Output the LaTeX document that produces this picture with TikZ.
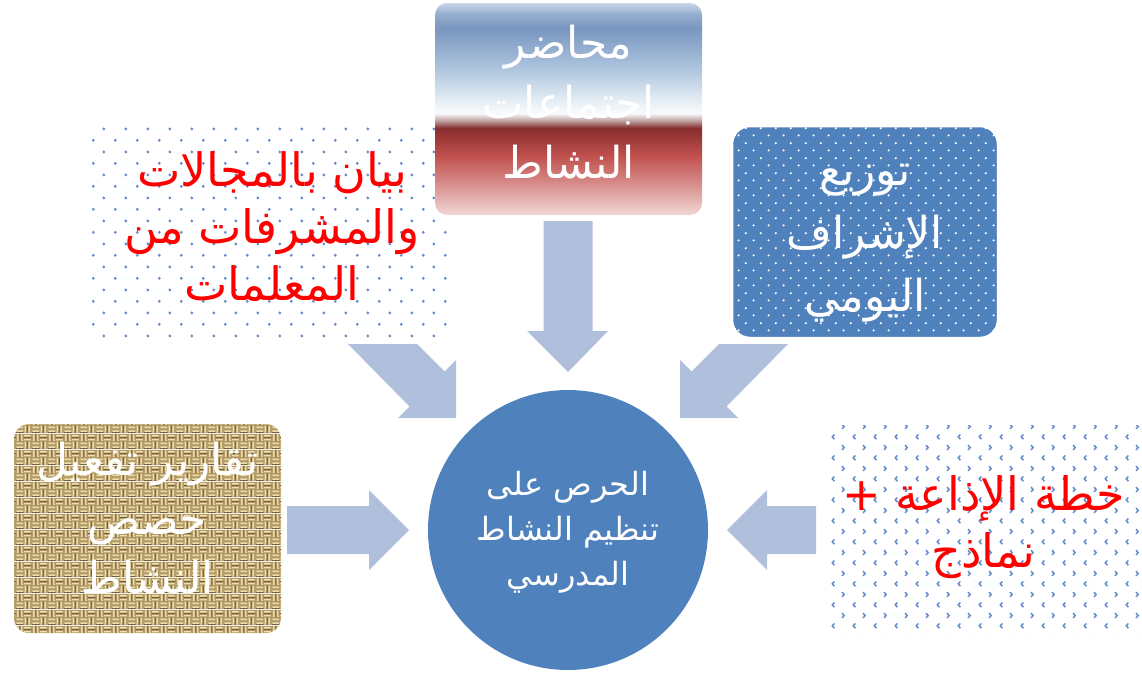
\documentclass[tikz,border=0pt]{standalone}
\usepackage{fontspec}
\newfontfamily\arabicfont[Script=Arabic]{DejaVu Sans}
\TeXXeTstate=1
\usetikzlibrary{patterns}
\definecolor{arrowc}{RGB}{176,191,219}
\definecolor{circc}{RGB}{79,129,189}
\definecolor{dotc}{RGB}{98,138,204}
\definecolor{chevc}{RGB}{100,140,205}
\definecolor{burlap}{RGB}{180,155,104}
\definecolor{burlapL}{RGB}{236,222,172}
\definecolor{burlapD}{RGB}{120,96,56}
\definecolor{redtxt}{RGB}{255,0,0}
\definecolor{g1}{RGB}{200,214,232}
\definecolor{g2}{RGB}{150,175,208}
\definecolor{g3}{RGB}{122,150,192}
\definecolor{g4}{RGB}{170,194,220}
\definecolor{g5}{RGB}{225,235,243}
\definecolor{g6}{RGB}{250,250,252}
\definecolor{g7}{RGB}{190,160,160}
\definecolor{g8}{RGB}{135,45,45}
\definecolor{g9}{RGB}{192,80,77}
\definecolor{g10}{RGB}{215,140,138}
\definecolor{g11}{RGB}{240,215,213}
\pgfdeclareverticalshading{topgrad}{100bp}{color(0bp)=(g11); color(25bp)=(g11); color(32.5bp)=(g10); color(39bp)=(g9); color(45.5bp)=(g8); color(47.25bp)=(g7); color(49bp)=(g6); color(52.5bp)=(g5); color(60bp)=(g4); color(69bp)=(g3); color(72.5bp)=(g2); color(75bp)=(g1); color(100bp)=(g1)}
\pgfdeclarepatternformonly{bdots}{\pgfpointorigin}{\pgfpoint{22pt}{22.8pt}}{\pgfpoint{22pt}{22.8pt}}{%
  \pgfpathcircle{\pgfpoint{5.5pt}{5.7pt}}{1.6pt}%
  \pgfpathcircle{\pgfpoint{16.5pt}{17.1pt}}{1.6pt}%
  \pgfusepath{fill}}
\pgfdeclarepatternformonly{wdots}{\pgfpointorigin}{\pgfpoint{14.7pt}{14.7pt}}{\pgfpoint{14.7pt}{14.7pt}}{%
  \pgfpathcircle{\pgfpoint{3.675pt}{3.675pt}}{1.2pt}%
  \pgfpathcircle{\pgfpoint{11.025pt}{11.025pt}}{1.2pt}%
  \pgfusepath{fill}}
\pgfdeclarepatternformonly{chev}{\pgfpointorigin}{\pgfpoint{20.7pt}{20.8pt}}{\pgfpoint{20.7pt}{20.8pt}}{%
  \pgfsetlinewidth{1.5pt}%
  \pgfpathmoveto{\pgfpoint{6.5pt}{7.6pt}}\pgfpathlineto{\pgfpoint{4.3pt}{5.2pt}}\pgfpathlineto{\pgfpoint{6.5pt}{2.8pt}}%
  \pgfpathmoveto{\pgfpoint{14.2pt}{18pt}}\pgfpathlineto{\pgfpoint{16.4pt}{15.6pt}}\pgfpathlineto{\pgfpoint{14.2pt}{13.2pt}}%
  \pgfusepath{stroke}}
\pgfdeclarepatterninherentlycolored{weave}{\pgfpointorigin}{\pgfpoint{16pt}{16pt}}{\pgfpoint{16pt}{16pt}}{%
  \pgfsetfillcolor{burlap}\pgfpathrectangle{\pgfpointorigin}{\pgfpoint{16pt}{16pt}}\pgfusepath{fill}%
  \pgfsetstrokecolor{burlapD}\pgfsetlinewidth{1.0pt}%
  \pgfpathmoveto{\pgfpoint{0pt}{0.3pt}}\pgfpathlineto{\pgfpoint{8pt}{0.3pt}}%
  \pgfpathmoveto{\pgfpoint{12pt}{0pt}}\pgfpathlineto{\pgfpoint{12pt}{8pt}}%
  \pgfpathmoveto{\pgfpoint{4pt}{8pt}}\pgfpathlineto{\pgfpoint{4pt}{16pt}}%
  \pgfpathmoveto{\pgfpoint{8pt}{12pt}}\pgfpathlineto{\pgfpoint{16pt}{12pt}}%
  \pgfusepath{stroke}%
  \pgfsetstrokecolor{burlapL}\pgfsetlinewidth{1.6pt}%
  \pgfpathmoveto{\pgfpoint{0.5pt}{2.1pt}}\pgfpathlineto{\pgfpoint{7.5pt}{2.1pt}}%
  \pgfpathmoveto{\pgfpoint{0.5pt}{6pt}}\pgfpathlineto{\pgfpoint{7.5pt}{6pt}}%
  \pgfpathmoveto{\pgfpoint{8.5pt}{10pt}}\pgfpathlineto{\pgfpoint{15.5pt}{10pt}}%
  \pgfpathmoveto{\pgfpoint{8.5pt}{14pt}}\pgfpathlineto{\pgfpoint{15.5pt}{14pt}}%
  \pgfpathmoveto{\pgfpoint{10pt}{0.5pt}}\pgfpathlineto{\pgfpoint{10pt}{7.5pt}}%
  \pgfpathmoveto{\pgfpoint{14pt}{0.5pt}}\pgfpathlineto{\pgfpoint{14pt}{7.5pt}}%
  \pgfpathmoveto{\pgfpoint{2pt}{8.5pt}}\pgfpathlineto{\pgfpoint{2pt}{15.5pt}}%
  \pgfpathmoveto{\pgfpoint{6pt}{8.5pt}}\pgfpathlineto{\pgfpoint{6pt}{15.5pt}}%
  \pgfusepath{stroke}}
% lines of a box, first baseline raised by #1 above the node centre
\newcommand{\boxlines}[2]{\raisebox{#1}[0pt][0pt]{\begin{tabular}[t]{@{}c@{}}#2\end{tabular}}}
\tikzset{
  blockarrow/.style={fill=arrowc, draw=none},
  atext/.style 2 args={font=\arabicfont\fontsize{#1}{#2}\selectfont},
  lecturebox/.style={shading=topgrad, rounded corners=12pt, minimum width=267pt, minimum height=212pt, text=white, inner sep=0pt},
  dotbox/.style={pattern=bdots, pattern color=dotc, minimum width=360pt, minimum height=214pt, text=redtxt, inner sep=0pt},
  bluebox/.style={preaction={fill=circc}, pattern=wdots, pattern color=white, draw=white, line width=2.5pt, rounded corners=18pt, minimum width=266pt, minimum height=212pt, text=white, inner sep=0pt},
  burlapbox/.style={pattern=weave, rounded corners=15pt, minimum width=267pt, minimum height=209pt, text=white, inner sep=0pt},
  chevbox/.style={pattern=chev, pattern color=chevc, minimum width=317pt, minimum height=208pt, text=redtxt, inner sep=0pt},
  hub/.style={circle, fill=circc, minimum size=280pt, text=white, inner sep=0pt}
}
\begin{document}
\begin{tikzpicture}[x=1pt, y=-1pt]
\useasboundingbox (0,0) rectangle (1142,672);
% arrows
\fill[blockarrow] (543.5,221) -- (592.5,221) -- (592.5,331) -- (608,331) -- (568,372) -- (527,331) -- (543.5,331) -- cycle;
\fill[blockarrow] (348,344) -- (417,344) -- (444.5,371.5) -- (456,360) -- (456,418) -- (398,418) -- (409.5,406.5) -- cycle;
\fill[blockarrow] (788,344) -- (719,344) -- (691.5,371.5) -- (680,360) -- (680,418) -- (738,418) -- (726.5,406.5) -- cycle;
\fill[blockarrow] (287,506) -- (369,506) -- (369,490) -- (409,530) -- (369,570) -- (369,554) -- (287,554) -- cycle;
\fill[blockarrow] (816,506) -- (767,506) -- (767,490) -- (727,530) -- (767,570) -- (767,554) -- (816,554) -- cycle;
% boxes
\node[dotbox, atext={46}{57}] (list) at (272,234) {\boxlines{48pt}{\beginR بيان بالمجالات\endR\\\beginR والمشرفات من\endR\\\beginR المعلمات\endR}};
\node[lecturebox, atext={44}{60}] (lect) at (568.5,109) {\boxlines{51pt}{\beginR محاضر\endR\\\beginR اجتماعات\endR\\\beginR النشاط\endR}};
\node[bluebox, atext={44}{63}] (dist) at (865,232) {\boxlines{47pt}{\beginR توزيع\endR\\\beginR الإشراف\endR\\\beginR اليومي\endR}};
\node[burlapbox, atext={44}{59}] (rep) at (147.5,528.5) {\boxlines{53.5pt}{\beginR تقارير تفعيل\endR\\\beginR حصص\endR\\\beginR النشاط\endR}};
\node[chevbox, atext={46}{57}] (plan) at (983.5,529) {\boxlines{19pt}{\beginR خطة الإذاعة +\endR\\\beginR نماذج\endR}};
\node[hub, atext={32}{45}] (hubnode) at (568,530) {\boxlines{35pt}{\beginR الحرص على\endR\\\beginR تنظيم النشاط\endR\\\beginR المدرسي\endR}};
\end{tikzpicture}
\end{document}
